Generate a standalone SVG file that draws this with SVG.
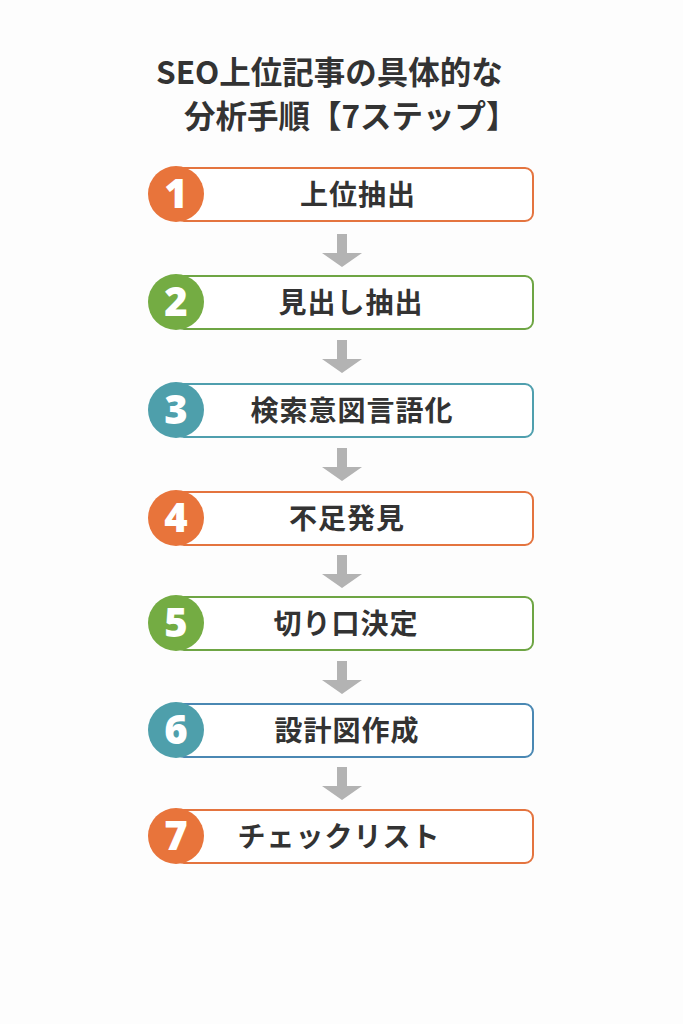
<svg xmlns="http://www.w3.org/2000/svg" width="683" height="1024" viewBox="0 0 683 1024">
<defs>
<style>
.title{font-family:"Noto Sans CJK JP","Noto Sans",sans-serif;font-weight:700;font-size:31.5px;fill:#333333}
.lbl{font-family:"Noto Sans CJK JP","Noto Sans",sans-serif;font-weight:700;font-size:28px;fill:#333333;text-anchor:middle;letter-spacing:1px}
.num{font-family:"Open Sans","Liberation Sans",sans-serif;font-weight:800;font-size:40px;fill:#ffffff;text-anchor:middle}
.box{fill:#ffffff;stroke-width:2}
.arrow{fill:#b3b3b3}
.o{stroke:#e4743f}.oc{fill:#e8743b}
.g{stroke:#6ea544}.gc{fill:#74ac43}
.t{stroke:#4f9fae}.tc{fill:#4e9fab}
.b{stroke:#4a88b3}
</style>
<path id="arr" class="arrow" d="M-5,0 H5 V19 H20 L0,33 L-20,19 H-5 Z"/>
</defs>
<rect width="683" height="1024" fill="#fdfdfd"/>
<g id="title">
<text class="title" x="156" y="84">SEO上位記事の具体的な</text>
<text class="title" x="184" y="128">分析手順【7ステップ】</text>
</g>
<g id="connectors">
<use href="#arr" x="342" y="234"/>
<use href="#arr" x="342" y="340"/>
<use href="#arr" x="342" y="448"/>
<use href="#arr" x="342" y="555"/>
<use href="#arr" x="342" y="661"/>
<use href="#arr" x="342" y="767"/>
</g>
<g id="step1">
<rect class="box o" x="176" y="168" width="357" height="53" rx="8"/>
<circle class="oc" cx="176" cy="194" r="28"/>
<text class="num" x="176" y="208">1</text>
<text class="lbl" x="358" y="205">上位抽出</text>
</g>
<g id="step2">
<rect class="box g" x="176" y="276" width="357" height="53" rx="8"/>
<circle class="gc" cx="176" cy="302" r="28"/>
<text class="num" x="176" y="316">2</text>
<text class="lbl" x="351" y="313">見出し抽出</text>
</g>
<g id="step3">
<rect class="box t" x="176" y="384" width="357" height="53" rx="8"/>
<circle class="tc" cx="176" cy="410" r="28"/>
<text class="num" x="176" y="424">3</text>
<text class="lbl" x="352" y="421">検索意図言語化</text>
</g>
<g id="step4">
<rect class="box o" x="176" y="492" width="357" height="53" rx="8"/>
<circle class="oc" cx="176" cy="518" r="28"/>
<text class="num" x="176" y="532">4</text>
<text class="lbl" x="347" y="529">不足発見</text>
</g>
<g id="step5">
<rect class="box g" x="176" y="597" width="357" height="53" rx="8"/>
<circle class="gc" cx="176" cy="623" r="28"/>
<text class="num" x="176" y="637">5</text>
<text class="lbl" x="346" y="634">切り口決定</text>
</g>
<g id="step6">
<rect class="box b" x="176" y="704" width="357" height="53" rx="8"/>
<circle class="tc" cx="176" cy="730" r="28"/>
<text class="num" x="176" y="744">6</text>
<text class="lbl" x="347" y="741">設計図作成</text>
</g>
<g id="step7">
<rect class="box o" x="176" y="810" width="357" height="53" rx="8"/>
<circle class="oc" cx="176" cy="836" r="28"/>
<text class="num" x="176" y="850">7</text>
<text class="lbl" x="339" y="847">チェックリスト</text>
</g>
</svg>
